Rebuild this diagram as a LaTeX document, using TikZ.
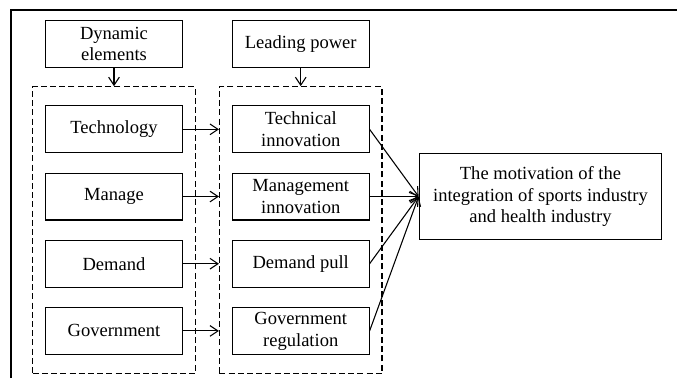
\documentclass[tikz,border=0pt]{standalone}
\usepackage{fontspec}
\setmainfont{Liberation Serif}
\usetikzlibrary{arrows.meta, positioning, fit}

\begin{document}
\begin{tikzpicture}[
    x=0.75pt, y=-0.75pt,
    font=\rmfamily\fontsize{13.9}{16.4}\selectfont,
    box/.style={
        draw, line width=0.8pt,
        minimum width=102.5pt, minimum height=35.2pt,
        align=center, inner sep=2pt
    },
    group/.style={
        draw, line width=0.8pt, dash pattern=on 4.5pt off 2.4pt,
        inner xsep=9.3pt, inner ysep=14pt
    },
    arrow/.style={-{Straight Barb[length=6pt, width=8pt]}, line width=0.8pt}
]
\useasboundingbox (0,0) rectangle (677,378);

% -- outer frame (cut off at right and bottom) --
\draw[line width=0.8pt] (11,378) -- (11,10) -- (677,10);

% -- column heads --
\node[box] (dynamic) at (114,44) {Dynamic\\elements};
\node[box, right=36.75pt of dynamic] (leading) {Leading power};

% -- left column: dynamic elements --
\node[box, below=28pt of dynamic] (tech) {Technology};
\node[box, below=14.4pt of tech] (manage) {Manage};
\node[box, below=14.4pt of manage] (demand) {Demand};
\node[box, below=14.4pt of demand] (govern) {Government};

% -- right column: leading power --
\node[box, right=36.75pt of tech] (techinno) {Technical\\innovation};
\node[box, right=36.75pt of manage] (mgmtinno) {Management\\innovation};
\node[box, right=36.75pt of demand] (pull) {Demand pull};
\node[box, right=36.75pt of govern] (regulate) {Government\\regulation};

% -- dashed groups --
\node[group, fit=(tech)(govern)] (leftgroup) {};
\node[group, fit=(techinno)(regulate)] (rightgroup) {};

% -- result --
\node[box, right=36.75pt of mgmtinno, minimum width=182pt, minimum height=64.5pt] (motive)
    {The motivation of the\\integration of sports industry\\and health industry};

% -- heads into groups --
\draw[arrow] (dynamic) -- (leftgroup);
\draw[arrow] (leading) -- (rightgroup);

% -- elements -> leading power --
\draw[arrow] (tech) -- (tech -| rightgroup.west);
\draw[arrow] (manage) -- (manage -| rightgroup.west);
\draw[arrow] (demand) -- (demand -| rightgroup.west);
\draw[arrow] (govern) -- (govern -| rightgroup.west);

% -- leading power -> motivation --
\draw[arrow] (techinno.east) -- (motive.west);
\draw[arrow] (mgmtinno.east) -- (motive.west);
\draw[arrow] (pull.east) -- (motive.west);
\draw[arrow] (regulate.east) -- (motive.west);

\end{tikzpicture}
\end{document}
